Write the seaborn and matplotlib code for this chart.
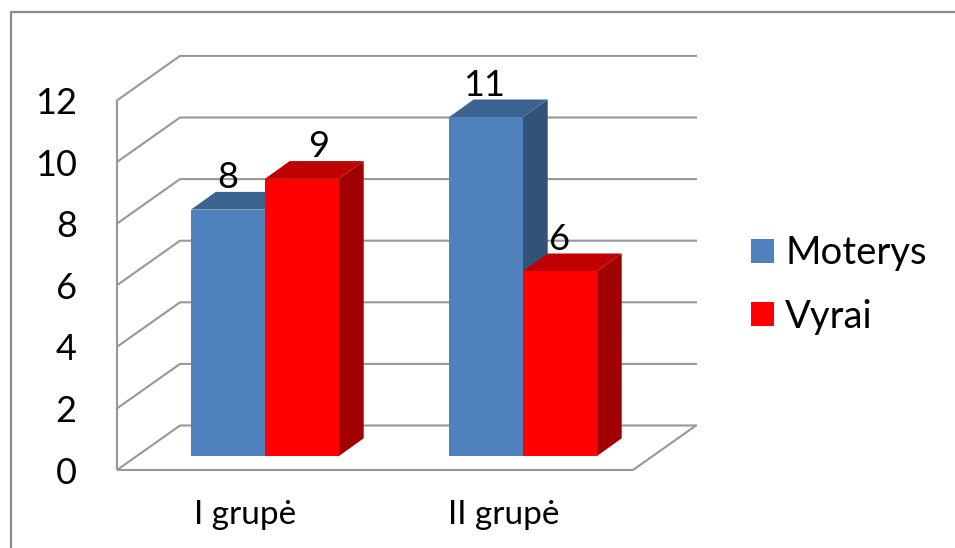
import matplotlib
matplotlib.use("Agg")
import matplotlib.pyplot as plt
from matplotlib.lines import Line2D
from matplotlib.patches import Polygon
import pandas as pd
import seaborn as sns

groups = ["I grupė", "II grupė"]
series = ["Moterys", "Vyrai"]
moterys = [8, 11]
vyrai = [9, 6]
y_ticks = [0, 2, 4, 6, 8, 10, 12]

front_colors = ["#4F81BD", "#FF0000"]
top_colors = ["#3D6391", "#BE0000"]
side_colors = ["#325277", "#A00000"]
grid_color = "#989898"

W, H = 955, 548
sns.set_theme(style="white")
plt.rcParams["font.family"] = ["Lato", "DejaVu Sans"]

df = pd.DataFrame({
    "grupe": groups * 2,
    "lytis": [series[0]] * 2 + [series[1]] * 2,
    "n": moterys + vyrai,
})

fig = plt.figure(figsize=(W / 100, H / 100), dpi=100, facecolor="white")

# Axes box in pixels: the front-left edge to the far end of the back wall
left, right, top, bottom = 117, 697, 55, 470
ax = fig.add_axes([left / W, 1 - bottom / H, (right - left) / W, (bottom - top) / H])

sns.barplot(data=df, x="grupe", y="n", hue="lytis", hue_order=series,
            palette=front_colors, saturation=1, width=148 / 258, gap=0,
            legend=True, ax=ax, linewidth=0)

# Scales: one category step is 258 px, one value unit is 30.8 px
px_x, px_y = 258.0, 30.8
center0, base = 265.0, 456.0
ax.set_xlim((left - center0) / px_x, (right - center0) / px_x)
ax.set_ylim((base - bottom) / px_y, (base - top) / px_y)

# Oblique offsets for the chart box and for the bar depth
wall_dx, wall_dy = 63 / px_x, 44.5 / px_y
bar_dx, bar_dy = 24.7 / px_x, 17.7 / px_y
front_y0 = (base - bottom) / px_y
front_x0 = (left - center0) / px_x
front_x1 = (633 - center0) / px_x
back_x1 = (right - center0) / px_x
line_kw = dict(color=grid_color, lw=1.5, zorder=1, solid_capstyle="butt", clip_on=False)

# Back-wall gridlines with their diagonals down to the front edge
for v in y_ticks:
    yf = front_y0 + v
    ax.plot([front_x0, front_x0 + wall_dx, back_x1], [yf, yf + wall_dy, yf + wall_dy], **line_kw)

# Floor outline and the front vertical edge
ax.plot([front_x0, front_x1, front_x1 + wall_dx], [front_y0, front_y0, front_y0 + wall_dy], **line_kw)
ax.plot([front_x0, front_x0], [front_y0, front_y0 + y_ticks[-1]], **line_kw)

# Extrude every bar seaborn drew: a top face and a right side face
for i, container in enumerate(ax.containers):
    for rect in container:
        x0, w, h = rect.get_x(), rect.get_width(), rect.get_height()
        x1 = x0 + w
        rect.set_zorder(3 + 2 * i + 1)
        ax.add_patch(Polygon([(x0, h), (x1, h), (x1 + bar_dx, h + bar_dy), (x0 + bar_dx, h + bar_dy)],
                             closed=True, fc=top_colors[i], ec="none", zorder=3 + 2 * i))
        ax.add_patch(Polygon([(x1, 0), (x1 + bar_dx, bar_dy), (x1 + bar_dx, h + bar_dy), (x1, h)],
                             closed=True, fc=side_colors[i], ec="none", zorder=3 + 2 * i))

# Value labels sit above each bar's top face, a few nudged clear of neighbours
label_nudge = [[0, -2], [17, 0]]
for i, values in enumerate([moterys, vyrai]):
    for j, (rect, v) in enumerate(zip(ax.containers[i], values)):
        ax.annotate(str(v), (rect.get_x() + rect.get_width() / 2, v),
                    xytext=(label_nudge[i][j] * 0.72, 32 * 0.72), textcoords="offset points",
                    ha="center", va="center", fontsize=26, color="black", zorder=12)

# Ticks belong to the front plane of the box
ax.set_yticks([front_y0 + v for v in y_ticks], [str(v) for v in y_ticks], fontsize=26)
ax.set_xticks([j - 19.5 / px_x for j in range(len(groups))], groups, fontsize=24)
ax.tick_params(axis="y", length=0, pad=29, colors="black")
ax.tick_params(axis="x", length=0, pad=21.5, colors="black")
ax.set_xlabel("")
ax.set_ylabel("")
sns.despine(ax=ax, left=True, bottom=True)

handles, labels = ax.get_legend_handles_labels()
ax.legend(handles, labels, loc="center left", bbox_to_anchor=(751 / W, 1 - 285 / H),
          bbox_transform=fig.transFigure, frameon=False, fontsize=27.5, labelcolor="black",
          handlelength=0.6, handleheight=0.6, handletextpad=0.3,
          labelspacing=0.72, borderpad=0, borderaxespad=0)

# Frame around the chart area: left and top edges are inside the canvas
fig.add_artist(Line2D([11 / W, 11 / W, 1], [0, 1 - 12 / H, 1 - 12 / H],
                      transform=fig.transFigure, color="#8A8A8A", lw=1.6))

fig.savefig("out.png", dpi=100, facecolor="white")
